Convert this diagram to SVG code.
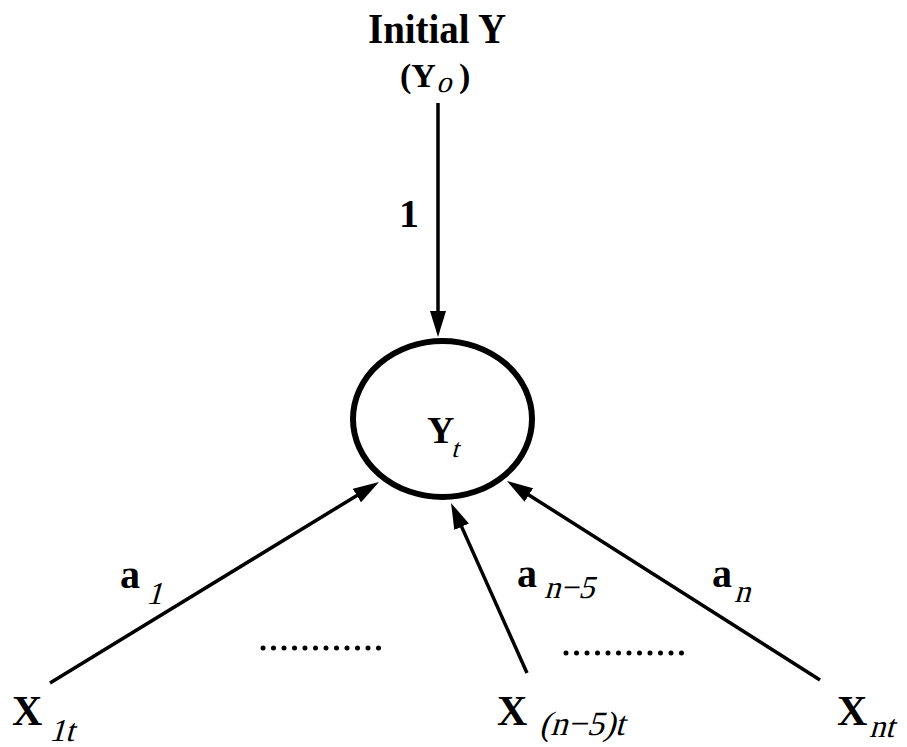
<svg xmlns="http://www.w3.org/2000/svg" width="907" height="747" viewBox="0 0 907 747">
<style>
.b{font-family:"Liberation Serif","Times New Roman",serif;font-weight:bold;fill:#000}
.i{font-family:"Liberation Serif","Times New Roman",serif;font-weight:normal;font-style:normal;fill:#000}
.ln{stroke:#000;stroke-width:3.5;fill:none}
.dots{stroke:#000;stroke-width:5;stroke-linecap:round;stroke-dasharray:0 10.5;fill:none}
</style>
<defs>
<marker id="arr" markerUnits="userSpaceOnUse" markerWidth="26" markerHeight="16" refX="16" refY="8" orient="auto" viewBox="0 0 26 16">
<path d="M0,0 L26,8 L0,16 z" fill="#000"/>
</marker>
</defs>
<rect width="907" height="747" fill="#fff"/>
<g id="initial">
<text class="b" x="437" y="43" font-size="42" text-anchor="middle" textLength="138" lengthAdjust="spacingAndGlyphs">Initial Y</text>
<text class="b" x="400" y="87" font-size="34">(Y</text>
<text class="i" transform="translate(436,92) skewX(-16)" font-size="30">o</text>
<text class="b" x="459" y="87" font-size="34">)</text>
</g>
<g id="yt">
<ellipse cx="442.5" cy="419" rx="89.5" ry="78" fill="#fff" stroke="#000" stroke-width="6"/>
<text class="b" x="427" y="443" font-size="38">Y</text>
<text class="i" transform="translate(451,457) skewX(-16)" font-size="26">t</text>
</g>
<g id="x1">
<text class="b" x="12" y="725" font-size="42">X</text>
<text class="i" transform="translate(49,741) skewX(-16)" font-size="32">1t</text>
</g>
<g id="xn5">
<text class="b" x="497" y="725" font-size="42">X</text>
<text class="i" transform="translate(539,735) skewX(-16)" font-size="34">(n−5)t</text>
</g>
<g id="xn">
<text class="b" x="837" y="725" font-size="42">X</text>
<text class="i" transform="translate(869,737) skewX(-16)" font-size="32">nt</text>
</g>
<g id="connectors">
<line class="ln" x1="438" y1="103" x2="438" y2="327" marker-end="url(#arr)"/>
<line class="ln" x1="50" y1="683" x2="370.5" y2="487.2" marker-end="url(#arr)"/>
<line class="ln" x1="527" y1="673" x2="455.1" y2="512.1" marker-end="url(#arr)"/>
<line class="ln" x1="820" y1="680" x2="515.4" y2="486.4" marker-end="url(#arr)"/>
</g>
<g id="labels">
<text class="b" x="399" y="227" font-size="40">1</text>
<text class="b" x="120" y="588" font-size="40">a</text>
<text class="i" transform="translate(146,604) skewX(-16)" font-size="32">1</text>
<text class="b" x="517" y="587" font-size="40">a</text>
<text class="i" transform="translate(544,598) skewX(-16)" font-size="32">n−5</text>
<text class="b" x="712" y="587" font-size="40">a</text>
<text class="i" transform="translate(734,602) skewX(-16)" font-size="32">n</text>
</g>
<g id="ellipses">
<line class="dots" x1="263" y1="648" x2="379" y2="648"/>
<line class="dots" x1="566" y1="653" x2="682" y2="653"/>
</g>
</svg>
